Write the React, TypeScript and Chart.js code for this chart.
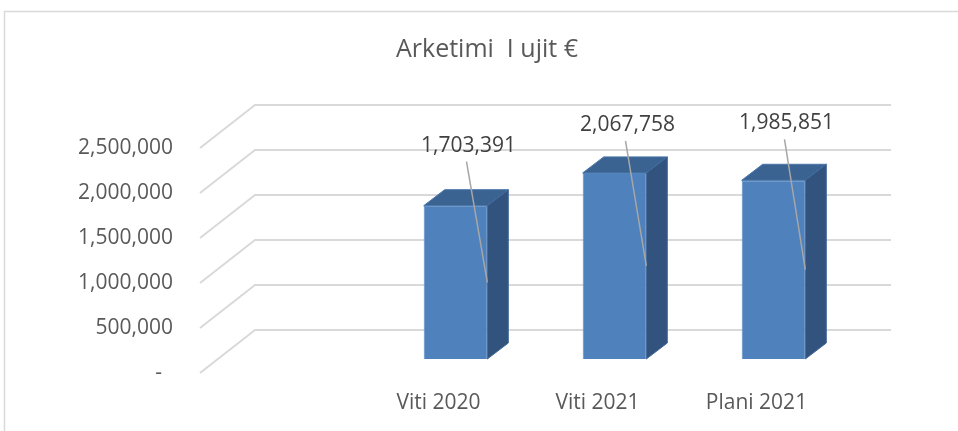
import React, { useEffect, useRef } from "react";
import { Chart, registerables } from "chart.js";

Chart.register(...registerables);

const TITLE = "Arketimi  I ujit €";
const categories = ["", "Viti 2020", "Viti 2021", "Plani 2021"];
const values: (number | null)[] = [null, 1703391, 2067758, 1985851];
const yTicks = [0, 500000, 1000000, 1500000, 2000000, 2500000];

// styling / layout constants
const FONT = "'Open Sans', 'Noto Sans', sans-serif";
const TEXT = "#595959";
const LABEL_TEXT = "#404040";
const GRID = "#d9d9d9";
const FRONT_DX = -17, FRONT_DY = 14; // front edge of side wall relative to bar plane
const BACK_DX = 38, BACK_DY = -29; // back wall relative to bar plane
const DEPTH_DX = 21, DEPTH_DY = -16; // bar depth
const LABEL_LIFT = [0, 60, 48, 57];
const LABEL_DX = 13;

const fmt = (v: number) => (v === 0 ? "-  " : v.toLocaleString("en-US"));

const threeD = {
  id: "threeD",
  beforeDraw(chart: any) {
    const ctx = chart.ctx;
    ctx.save();
    ctx.strokeStyle = GRID;
    ctx.lineWidth = 1.5;
    ctx.beginPath();
    ctx.moveTo(4.5, chart.height);
    ctx.lineTo(4.5, 11.5);
    ctx.lineTo(chart.width, 11.5);
    ctx.stroke();
    ctx.restore();
  },
  beforeDatasetsDraw(chart: any) {
    const { ctx, chartArea } = chart;
    const y = chart.scales.y;
    ctx.save();
    ctx.strokeStyle = GRID;
    ctx.lineWidth = 2;
    yTicks.forEach((v) => {
      const py = y.getPixelForValue(v);
      ctx.beginPath();
      ctx.moveTo(chartArea.left + FRONT_DX, py + FRONT_DY);
      ctx.lineTo(chartArea.left + BACK_DX, py + BACK_DY);
      ctx.lineTo(chartArea.right + BACK_DX, py + BACK_DY);
      ctx.stroke();
    });
    ctx.restore();
  },
  afterDatasetsDraw(chart: any) {
    const { ctx } = chart;
    const meta = chart.getDatasetMeta(0);
    ctx.save();
    meta.data.forEach((bar: any, i: number) => {
      const v = values[i];
      if (v === null || v === undefined) return;
      const { x, y: top, base, width } = bar.getProps(["x", "y", "base", "width"], true);
      const l = x - width / 2;
      const r = x + width / 2;
      // top face
      ctx.beginPath();
      ctx.moveTo(l, top);
      ctx.lineTo(r, top);
      ctx.lineTo(r + DEPTH_DX, top + DEPTH_DY);
      ctx.lineTo(l + DEPTH_DX, top + DEPTH_DY);
      ctx.closePath();
      ctx.fillStyle = "#3a6391";
      ctx.fill();
      ctx.strokeStyle = "#4a76aa";
      ctx.lineWidth = 1;
      ctx.stroke();
      // side face
      ctx.beginPath();
      ctx.moveTo(r, top);
      ctx.lineTo(r + DEPTH_DX, top + DEPTH_DY);
      ctx.lineTo(r + DEPTH_DX, base + DEPTH_DY);
      ctx.lineTo(r, base);
      ctx.closePath();
      ctx.fillStyle = "#31537e";
      ctx.fill();
      ctx.strokeStyle = "#41689a";
      ctx.stroke();
    });
    // labels with leader lines
    meta.data.forEach((bar: any, i: number) => {
      const v = values[i];
      if (v === null || v === undefined) return;
      const { x, y: top, base, width } = bar.getProps(["x", "y", "base", "width"], true);
      const r = x + width / 2;
      const lx = x + LABEL_DX;
      const ly = top - LABEL_LIFT[i];
      ctx.beginPath();
      ctx.moveTo(lx - 2, ly + 16);
      ctx.lineTo(r, (top + base) / 2);
      ctx.strokeStyle = "#a6a6a6";
      ctx.lineWidth = 1.5;
      ctx.stroke();
      ctx.fillStyle = LABEL_TEXT;
      ctx.font = `21px ${FONT}`;
      ctx.textAlign = "center";
      ctx.textBaseline = "middle";
      ctx.fillText(fmt(v), lx, ly);
    });
    ctx.restore();
  },
  afterDraw(chart: any) {
    const { ctx } = chart;
    ctx.save();
    ctx.fillStyle = TEXT;
    ctx.font = `25px ${FONT}`;
    ctx.textAlign = "center";
    ctx.textBaseline = "middle";
    ctx.fillText(TITLE, 487, 50);
    ctx.restore();
  },
};

export default function App() {
  const ref = useRef<HTMLCanvasElement>(null);
  useEffect(() => {
    document.body.style.margin = "0";
    const chart = new Chart(ref.current!, {
      type: "bar",
      data: {
        labels: categories,
        datasets: [
          {
            data: values,
            backgroundColor: "#4f81bd",
            borderColor: "#5b8dc9",
            borderWidth: 1,
            categoryPercentage: 1,
            barPercentage: 0.4,
          },
        ],
      },
      options: {
        responsive: false,
        animation: false,
        layout: { padding: { top: 134, right: 105, bottom: 0, left: 0 } },
        plugins: { legend: { display: false }, tooltip: { enabled: false }, title: { display: false } },
        scales: {
          x: {
            grid: { display: false, drawTicks: false },
            border: { display: false },
            ticks: {
              font: { family: FONT, size: 21 },
              color: TEXT,
              padding: 31,
              labelOffset: -17,
              maxRotation: 0,
              autoSkip: false,
            },
            afterFit: (s: any) => {
              s.height = 72;
            },
          },
          y: {
            min: 0,
            max: 2500000,
            grid: { display: false, drawTicks: false },
            border: { display: false },
            ticks: {
              stepSize: 500000,
              font: { family: FONT, size: 21 },
              color: TEXT,
              padding: 44,
              labelOffset: 14,
              callback: (v: any) => fmt(Number(v)),
            },
            afterFit: (s: any) => {
              s.width = 217;
            },
          },
        },
      },
      plugins: [threeD],
    });
    return () => chart.destroy();
  }, []);
  return (
    <div style={{ width: 958, height: 431 }}>
      <canvas ref={ref} width={958} height={431} style={{ display: "block" }} />
    </div>
  );
}
